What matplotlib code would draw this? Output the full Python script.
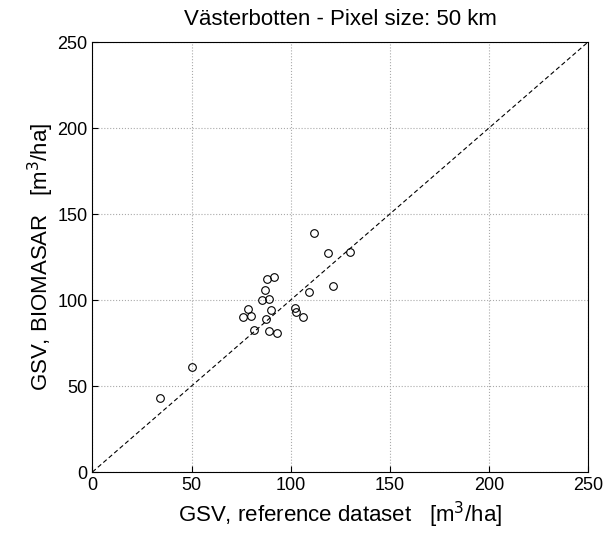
import matplotlib.pyplot as plt

plt.rcParams['font.family'] = ['Liberation Sans', 'DejaVu Sans']

# GSV values (m3/ha)
gsv_reference = [34, 50.3, 81.5, 75.8, 79.8, 78.7, 87.5, 90, 89.2, 93,
                 85.5, 89.3, 87.2, 88, 91.7, 102.3, 102.7, 106.3, 109,
                 121.2, 119, 130, 112]
gsv_biomasar = [42.8, 61.3, 82.5, 90.3, 90.7, 94.9, 88.9, 94, 81.9, 80.9,
                100.2, 100.6, 105.8, 112.5, 113.6, 95.3, 92.8, 89.9, 104.5,
                108.2, 127.6, 128, 138.7]
ticks = [0, 50, 100, 150, 200, 250]

fig = plt.figure(figsize=(6.16, 5.33), dpi=100)
ax = fig.add_axes([0.150, 0.1144, 0.8047, 0.8068])

# 1:1 line
ax.plot([0, 250], [0, 250], color='black', linestyle=(0, (4, 2.5)), linewidth=0.8)
ax.plot(gsv_reference, gsv_biomasar, 'o', markerfacecolor='none',
        markeredgecolor='black', markersize=5.5, markeredgewidth=0.8)

ax.set_xlim(0, 250)
ax.set_ylim(0, 250)
ax.set_xticks(ticks)
ax.set_yticks(ticks)
ax.tick_params(direction='in', labelsize=13, length=4)
ax.grid(True, linestyle=':', color='#aaaaaa', linewidth=0.8)
ax.set_axisbelow(True)

ax.set_title('Västerbotten - Pixel size: 50 km', fontsize=16, pad=12)
ax.set_xlabel('GSV, reference dataset   [m$^3$/ha]', fontsize=16, labelpad=4)
ax.set_ylabel('GSV, BIOMASAR   [m$^3$/ha]', fontsize=16, labelpad=1)

fig.savefig('out.png', dpi=100)
